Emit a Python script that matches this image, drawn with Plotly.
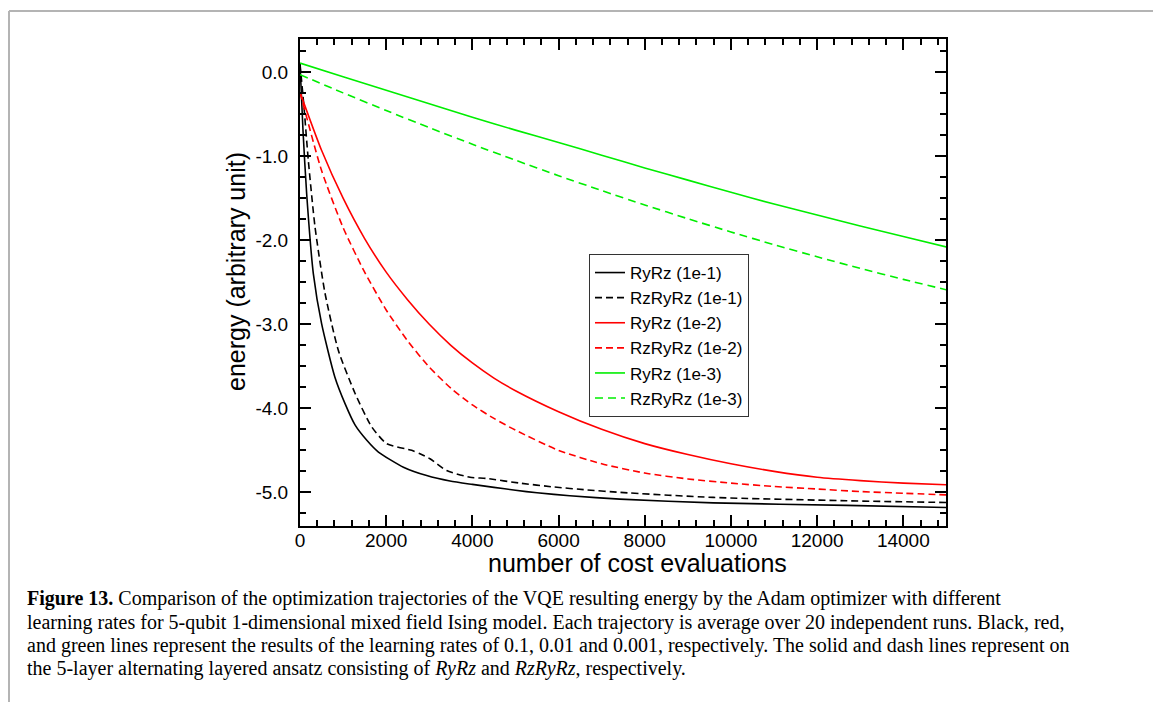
import plotly.graph_objects as go

# ---- data ----
x_ryrz_1e1 = [0, 70, 155, 310, 500, 810, 1050, 1280, 1550, 1820, 2400, 2940, 3480, 4000, 4500, 5000, 5500, 6260, 7420, 9590, 12680, 15000]
y_ryrz_1e1 = [0.10, -0.70, -1.45, -2.40, -2.99, -3.63, -3.95, -4.20, -4.38, -4.52, -4.70, -4.80, -4.865, -4.905, -4.94, -4.975, -5.005, -5.04, -5.08, -5.125, -5.155, -5.18]

x_rzryrz_1e1 = [0, 90, 193, 348, 580, 889, 1276, 1663, 2011, 2591, 2784, 3016, 3403, 3944, 4331, 5104, 5877, 6651, 7424, 9589, 12684, 15000]
y_rzryrz_1e1 = [0.10, -0.40, -1.05, -1.84, -2.63, -3.31, -3.82, -4.22, -4.42, -4.50, -4.54, -4.60, -4.74, -4.82, -4.835, -4.89, -4.935, -4.97, -5.00, -5.06, -5.10, -5.12]

x_ryrz_1e2 = [0, 500, 1000, 1500, 2000, 2500, 3000, 3500, 4000, 4500, 5000, 6000, 7000, 8000, 9000, 10000, 11000, 12000, 13000, 14000, 15000]
y_ryrz_1e2 = [-0.24, -0.93, -1.50, -1.98, -2.38, -2.71, -3.00, -3.25, -3.46, -3.64, -3.79, -4.04, -4.25, -4.42, -4.55, -4.66, -4.75, -4.82, -4.86, -4.89, -4.91]

x_rzryrz_1e2 = [0, 500, 1000, 1500, 2000, 2500, 3000, 3500, 4000, 4500, 5000, 6000, 7000, 8000, 9000, 10000, 11000, 12000, 13000, 14000, 15000]
y_rzryrz_1e2 = [-0.24, -1.17, -1.85, -2.38, -2.83, -3.20, -3.51, -3.76, -3.96, -4.12, -4.26, -4.50, -4.66, -4.77, -4.84, -4.89, -4.93, -4.96, -4.99, -5.01, -5.03]

x_ryrz_1e3 = [0, 1000, 2000, 3000, 4000, 5000, 6000, 7000, 8000, 9000, 10000, 11000, 12000, 13000, 14000, 15000]
y_ryrz_1e3 = [0.107, -0.055, -0.215, -0.375, -0.538, -0.69, -0.838, -0.988, -1.14, -1.285, -1.43, -1.57, -1.70, -1.83, -1.955, -2.08]

x_rzryrz_1e3 = [0, 1000, 2000, 3000, 4000, 5000, 6000, 7000, 8000, 9000, 10000, 11000, 12000, 13000, 14000, 15000]
y_rzryrz_1e3 = [-0.03, -0.247, -0.457, -0.661, -0.858, -1.048, -1.232, -1.409, -1.58, -1.744, -1.902, -2.053, -2.197, -2.335, -2.466, -2.59]

y_tickvals = [0, -1, -2, -3, -4, -5]
y_ticktext = ["0.0", "-1.0", "-2.0", "-3.0", "-4.0", "-5.0"]
x_tickvals = [0, 2000, 4000, 6000, 8000, 10000, 12000, 14000]
x_ticktext = ["0", "2000", "4000", "6000", "8000", "10000", "12000", "14000"]

x_title = "number of cost evaluations"
y_title = "energy (arbitrary unit)"

caption_lines = [
    "<b>Figure 13.</b> Comparison of the optimization trajectories of the VQE resulting energy by the Adam optimizer with different",
    "learning rates for 5-qubit 1-dimensional mixed field Ising model. Each trajectory is average over 20 independent runs. Black, red,",
    "and green lines represent the results of the learning rates of 0.1, 0.01 and 0.001, respectively. The solid and dash lines represent on",
    "the 5-layer alternating layered ansatz consisting of <i>RyRz</i> and <i>RzRyRz</i>, respectively.",
]

W, H = 1153, 702
SANS = "Liberation Sans, Arial, sans-serif"
SERIF = "Liberation Serif, Times New Roman, serif"

fig = go.Figure()
series = [
    ("RyRz (1e-1)", x_ryrz_1e1, y_ryrz_1e1, "black", "solid"),
    ("RzRyRz (1e-1)", x_rzryrz_1e1, y_rzryrz_1e1, "black", "7px,4px"),
    ("RyRz (1e-2)", x_ryrz_1e2, y_ryrz_1e2, "#ff0000", "solid"),
    ("RzRyRz (1e-2)", x_rzryrz_1e2, y_rzryrz_1e2, "#ff0000", "7px,4px"),
    ("RyRz (1e-3)", x_ryrz_1e3, y_ryrz_1e3, "#00ee00", "solid"),
    ("RzRyRz (1e-3)", x_rzryrz_1e3, y_rzryrz_1e3, "#00ee00", "8px,5px"),
]
for name, xs, ys, col, dash in series:
    fig.add_trace(go.Scatter(x=xs, y=ys, mode="lines", name=name,
                             line=dict(color=col, width=1.6, dash=dash, shape="spline", smoothing=0.6)))

x0, x1 = 300 / W, 946 / W
yb, yt = 1 - 526 / H, 1 - 38.5 / H

axis_common = dict(showline=True, linecolor="black", linewidth=2, mirror="ticks",
                   ticks="inside", tickcolor="black", tickwidth=1.5, ticklen=11,
                   showgrid=False, zeroline=False,
                   tickfont=dict(family=SANS, size=19, color="black"))

fig.update_layout(
    width=W, height=H,
    margin=dict(l=0, r=0, t=0, b=0),
    paper_bgcolor="white", plot_bgcolor="white",
    xaxis=dict(domain=[x0, x1], range=[0, 14990], tickmode="array",
               tickvals=x_tickvals, ticktext=x_ticktext,
               minor=dict(ticks="inside", ticklen=6, dtick=400, tick0=0, tickcolor="black", tickwidth=1.5),
               ticklabelstandoff=-4,
               automargin=False, **axis_common),
    yaxis=dict(domain=[yb, yt], range=[-5.4, 0.4], tickmode="array",
               tickvals=y_tickvals, ticktext=y_ticktext,
               minor=dict(ticks="inside", ticklen=6, dtick=0.25, tick0=0, tickcolor="black", tickwidth=1.5),
               ticklabelstandoff=6,
               automargin=False, **axis_common),
    legend=dict(x=589 / W, y=1 - 254 / H, xanchor="left", yanchor="top",
                bordercolor="#333333", borderwidth=1, bgcolor="white",
                font=dict(family=SANS, size=17, color="black"),
                tracegroupgap=0, itemwidth=30,
                entrywidth=135, entrywidthmode="pixels"),
    showlegend=True,
)

# axis titles
fig.add_annotation(text=x_title, xref="paper", yref="paper", x=637 / W, y=1 - 563 / H,
                   xanchor="center", yanchor="middle", showarrow=False,
                   font=dict(family=SANS, size=25, color="black"))
fig.add_annotation(text=y_title, xref="paper", yref="paper", x=236 / W, y=1 - 272 / H,
                   xanchor="center", yanchor="middle", showarrow=False, textangle=-90,
                   font=dict(family=SANS, size=25, color="black"))

# page frame (thin grey border on top and left)
fig.add_shape(type="line", xref="paper", yref="paper", x0=9 / W, x1=1, y0=1 - 11 / H, y1=1 - 11 / H,
              line=dict(color="#b4b4b4", width=2))
fig.add_shape(type="line", xref="paper", yref="paper", x0=9 / W, x1=9 / W, y0=0, y1=1 - 11 / H,
              line=dict(color="#b4b4b4", width=2))

line_y = [598, 622, 645, 668]
for txt, py in zip(caption_lines, line_y):
    fig.add_annotation(text=txt, xref="paper", yref="paper", x=25 / W, y=1 - py / H,
                       xanchor="left", yanchor="middle", showarrow=False, align="left",
                       font=dict(family=SERIF, size=20, color="black"))

fig.write_html("out.html")
